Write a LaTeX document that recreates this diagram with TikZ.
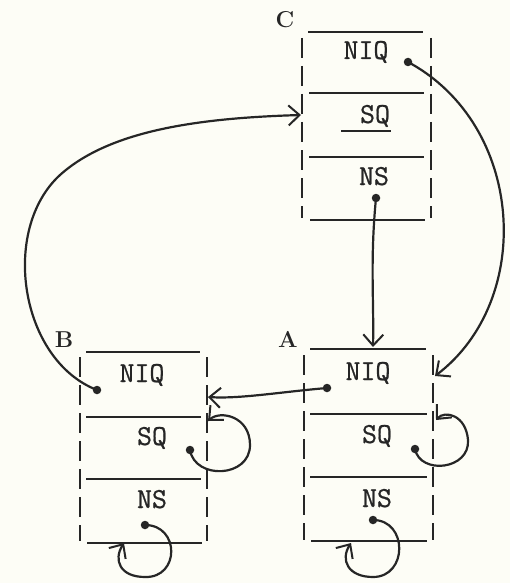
\documentclass[tikz,border=0pt]{standalone}
\usepackage{fontspec}
\newfontfamily\typer[FakeBold=0.7]{Latin Modern Mono}
\usetikzlibrary{arrows.meta}
\definecolor{ink}{HTML}{262626}
\definecolor{paper}{HTML}{FDFDF6}
\begin{document}
\begin{tikzpicture}[x=1pt,y=-1pt,
  field/.style={font=\typer\fontsize{29}{29}\selectfont, text=ink, anchor=base, inner sep=0pt},
  boxlabel/.style={font=\bfseries\fontsize{23}{23}\selectfont, text=ink, inner sep=0pt},
  rule/.style={draw=ink, line width=1.8pt},
  side/.style={draw=ink, line width=1.8pt, dash pattern=on 20pt off 8pt},
  dot/.style={circle, fill=ink, inner sep=0pt, minimum size=8.5pt},
  link/.style={draw=ink, line width=2.2pt, -{Straight Barb[length=11pt,width=20pt,line width=2pt]}}
]
\fill[paper] (0,0) rectangle (510,583);
\useasboundingbox (0,0) rectangle (510,583);

% ---- box C
\draw[rule] (308,32) -- (423,32);
\draw[rule] (309,93) -- (424,93);
\draw[rule] (309,157) -- (424,157);
\draw[rule] (310,220) -- (425,220);
\draw[side] (302,38) -- (302,218);
\draw[side] (431,38) -- (431,218);
\node[boxlabel] (lc) at (285,20) {C};
\node[field] (cniq) at (366,59) {NIQ};
\node[field] (csq) at (375,123) {SQ};
\node[field] (cns) at (374,185) {NS};
\draw[draw=ink, line width=1.8pt] (341,131) -- (391,131);

% ---- box B
\draw[rule] (86,352) -- (200,352);
\draw[rule] (86,417) -- (201,417);
\draw[rule] (86,479) -- (201,479);
\draw[rule] (87,543) -- (202,543);
\draw[side] (80,357) -- (80,541);
\draw[side] (207,357) -- (207,541);
\node[boxlabel] (lb) at (64,340) {B};
\node[field] (bniq) at (142,382) {NIQ};
\node[field] (bsq) at (152,445) {SQ};
\node[field] (bns) at (152,508) {NS};

% ---- box A
\draw[rule] (310,349) -- (426,349);
\draw[rule] (310,414) -- (427,414);
\draw[rule] (310,477) -- (427,477);
\draw[rule] (311,541) -- (427,541);
\draw[side] (304,355) -- (304,540);
\draw[side] (433,355) -- (433,540);
\node[boxlabel] (la) at (288,339) {A};
\node[field] (aniq) at (368,380) {NIQ};
\node[field] (asq) at (377,443) {SQ};
\node[field] (ans) at (377,507) {NS};

% ---- pointer origins
\node[dot] (dcniq) at (408,62) {};
\node[dot] (dcns) at (376,198) {};
\node[dot] (dbniq) at (97,390) {};
\node[dot] (dbsq) at (190,450) {};
\node[dot] (dbns) at (145,525) {};
\node[dot] (daniq) at (327,388) {};
\node[dot] (dasq) at (415,449) {};
\node[dot] (dans) at (373,520) {};

% ---- pointer targets
\coordinate (tcsq) at (301,115);
\coordinate (taniq) at (435,376);
\coordinate (tatop) at (373,347);
\coordinate (tbniq) at (208,397);
\coordinate (tbsq) at (208,421);
\coordinate (tasq) at (436,420);
\coordinate (tbns) at (124,543);
\coordinate (tans) at (351,543);

% ---- links
\draw[link] (dcniq.center) .. controls (525,125) and (535,300) .. (taniq);
\draw[link] (dcns.center) .. controls (370,260) and (374,300) .. (tatop);
\draw[link] (dbniq.center) .. controls (20,360) and (0,230) .. (60,175)
  .. controls (110,130) and (200,118) .. (tcsq);
\draw[link] (daniq.center) .. controls (280,392) and (240,399) .. (tbniq);
\draw[link] (dbsq.center) .. controls (195,480) and (250,478) .. (250,445)
  .. controls (250,416) and (220,410) .. (tbsq);
\draw[link] (dasq.center) .. controls (420,475) and (470,470) .. (468,440)
  .. controls (466,415) and (445,410) .. (tasq);
\draw[link] (dbns.center) .. controls (180,525) and (180,578) .. (145,577)
  .. controls (120,577) and (113,560) .. (tbns);
\draw[link] (dans.center) .. controls (408,520) and (408,577) .. (373,577)
  .. controls (348,577) and (340,560) .. (tans);
\end{tikzpicture}
\end{document}
